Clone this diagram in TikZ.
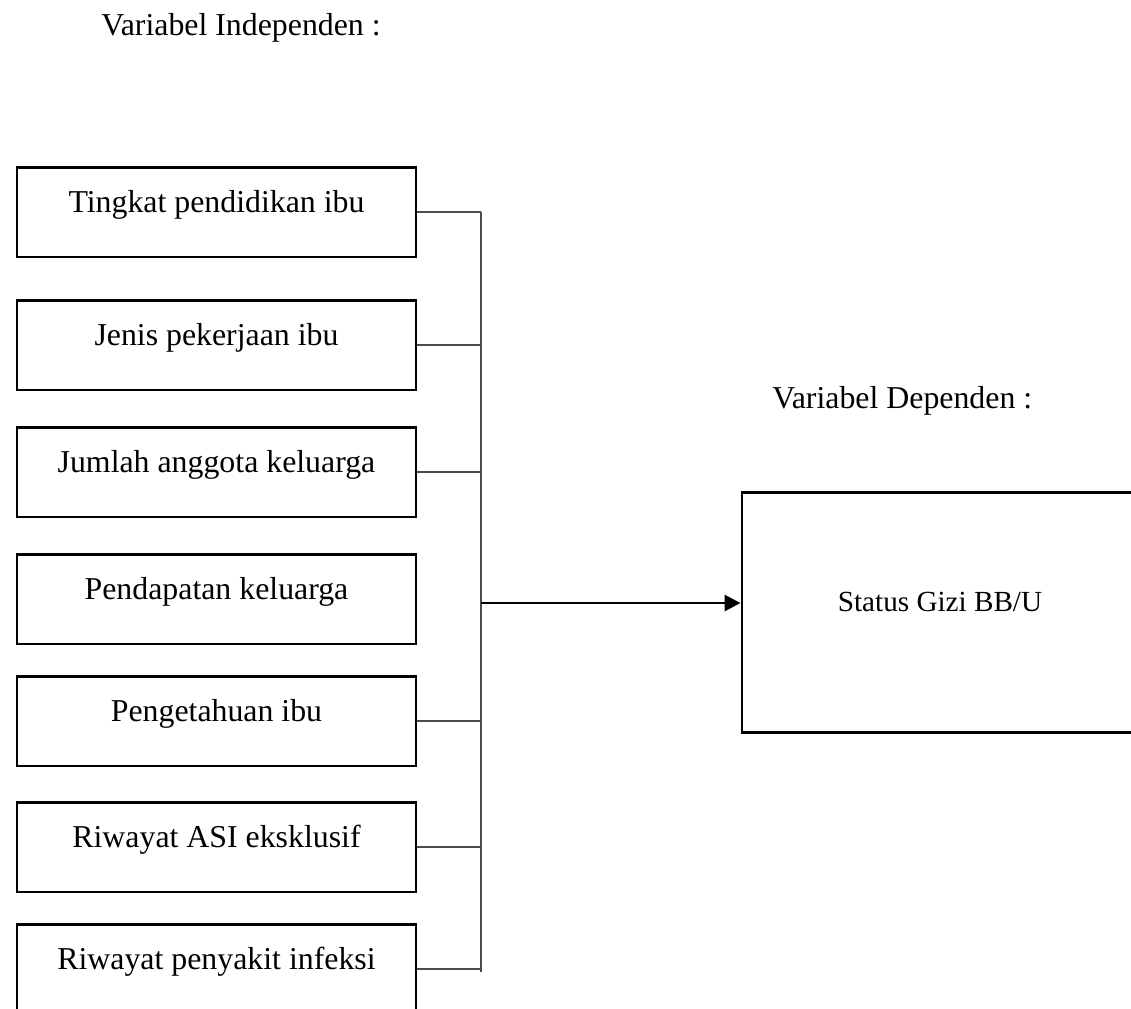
\documentclass[tikz,border=0pt]{standalone}
\usepackage{fontspec}
\setmainfont{Liberation Serif}
\usepackage{tikz}
\usetikzlibrary{arrows.meta}
\tikzset{
    varbox/.style={draw, line width=1.1pt, inner sep=0pt, minimum width=150.4pt,
        text height=17.3pt, text depth=16.6pt, font=\fontsize{12}{14}\selectfont},
    link/.style={draw=black!70, line width=0.75pt}
}

\begin{document}
\begin{tikzpicture}[x=0.377pt, y=-0.377pt]
            \useasboundingbox (0,0) rectangle (1131,1008);
            \node[anchor=base west, font=\fontsize{12}{14}\selectfont] (judulX) at (92,35) {Variabel Independen :};
            \node[anchor=base west, font=\fontsize{12}{14}\selectfont] (judulY) at (763,408) {Variabel Dependen :};
            \node[varbox] (didik) at (216.5,212) {Tingkat pendidikan ibu};
            \node[varbox] (kerja) at (216.5,345) {Jenis pekerjaan ibu};
            \node[varbox] (anggota) at (216.5,472) {Jumlah anggota keluarga};
            \node[varbox] (dapat) at (216.5,599) {Pendapatan keluarga};
            \node[varbox] (tahu) at (216.5,721) {Pengetahuan ibu};
            \node[varbox] (asi) at (216.5,847) {Riwayat ASI eksklusif};
            \node[varbox] (infeksi) at (216.5,969) {Riwayat penyakit infeksi};
            \node[draw, line width=1.1pt, inner sep=0pt, minimum width=149.3pt, text height=45.2pt, text depth=45.6pt,
                font=\fontsize{11}{13}\selectfont] (gizi) at (940,612.5) {Status Gizi BB/U};
            \coordinate (atas) at (481,212);
            \coordinate (bawah) at (481,972);
            \coordinate (tengah) at (481,603);
            \draw[link] (atas) -- (bawah);
            \draw[link] (didik.east) -- (didik.east -| atas);
            \draw[link] (kerja.east) -- (kerja.east -| atas);
            \draw[link] (anggota.east) -- (anggota.east -| atas);
            \draw[link] (tahu.east) -- (tahu.east -| atas);
            \draw[link] (asi.east) -- (asi.east -| atas);
            \draw[link] (infeksi.east) -- (infeksi.east -| atas);
            \draw[line width=1.1pt, -{Triangle[length=6pt, width=6pt]}] (tengah) -- (tengah -| gizi.west);
        \end{tikzpicture}
\end{document}
